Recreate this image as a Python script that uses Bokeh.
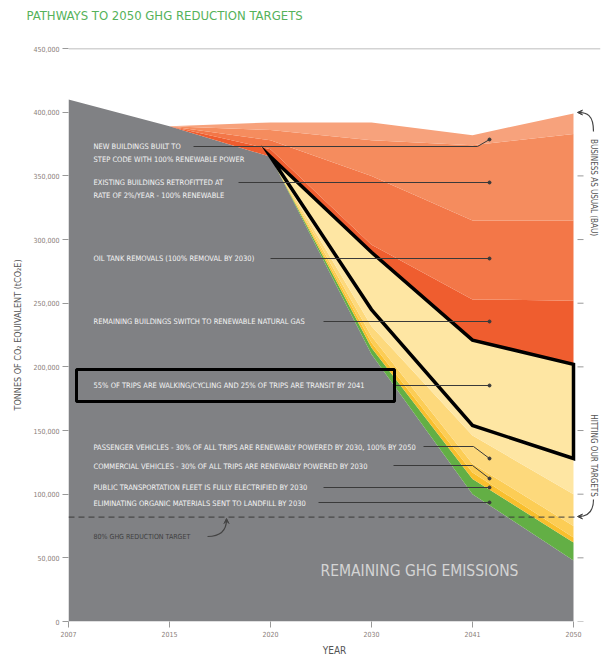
import math
from bokeh.plotting import figure
from bokeh.models import (ColumnDataSource, Range1d, FixedTicker, NumeralTickFormatter,
                          Label, Arrow, VeeHead)
from bokeh.embed import file_html
from bokeh.resources import INLINE

# ---------------- data ----------------
years = ["2007", "2015", "2020", "2030", "2041", "2050"]
remaining = [410000, 389000, 365000, 210000, 100000, 48000]
organics = [0, 0, 0, 5000, 12000, 14000]
public_transit = [0, 0, 0, 4000, 5000, 4000]
commercial = [0, 0, 0, 5000, 7000, 9000]
passenger = [0, 0, 0, 8000, 22000, 25000]
trips = [0, 0, 0, 58000, 75000, 102000]
rng_gas = [0, 0, 6000, 6000, 32000, 50000]
oil_tank = [0, 0, 7000, 54000, 62000, 63000]
retrofit = [0, 0, 8000, 28000, 59000, 68000]
new_buildings = [0, 0, 6000, 14000, 8000, 16000]

pathway_years = ["2020", "2030", "2041", "2050"]
pathway_upper = [365000, 290000, 221000, 202000]
pathway_lower = [365000, 245000, 154000, 128000]

target_value = 82000
y_ticks = list(range(0, 450001, 50000))
right_ticks = list(range(0, 400001, 50000))

layer_names = ["remaining", "organics", "public_transit", "commercial", "passenger",
               "trips", "rng_gas", "oil_tank", "retrofit", "new_buildings"]
layer_colors = ["#808184", "#63AF45", "#F9BF2D", "#FCCD55", "#FDD97C",
                "#FEE6A3", "#EF5D2F", "#F37748", "#F58C5E", "#F7A27C"]

FONT = "DejaVu Sans Condensed"
Y_TOP = 450060
PX_PER_50K = 573 / (Y_TOP / 50000.0)

# pixel helpers for annotation placement
def X(px):
    return (px - 68) / 101.0

def Y(py):
    return (621 - py) * 50000 / PX_PER_50K

xi = list(range(len(years)))
src = ColumnDataSource(dict(x=xi, remaining=remaining, organics=organics,
                            public_transit=public_transit, commercial=commercial,
                            passenger=passenger, trips=trips, rng_gas=rng_gas,
                            oil_tank=oil_tank, retrofit=retrofit,
                            new_buildings=new_buildings))

p = figure(width=605, height=666, output_backend="svg", toolbar_location=None,
           title=None, x_range=Range1d(0, 532 / 101.0), y_range=Range1d(0, Y_TOP),
           min_border_left=68, min_border_right=5, min_border_top=48,
           min_border_bottom=45)
p.outline_line_color = None
p.background_fill_color = "white"
p.border_fill_color = "white"

p.varea_stack(stackers=layer_names, x="x", color=layer_colors, source=src)

# pathway polygon
pxs = [years.index(y) for y in pathway_years]
p.patch(pxs + pxs[::-1], pathway_upper + pathway_lower[::-1], fill_color=None,
        line_color="black", line_width=3.5, line_join="miter")

# target line
p.line([0, X(578)], [target_value, target_value], line_color="#3a3a3a",
       line_width=1, line_dash="6 4")

# right side ticks
p.segment(x0=[X(577)] * len(right_ticks), x1=[X(583)] * len(right_ticks),
          y0=right_ticks, y1=right_ticks, line_color="#999999", line_width=1)

# axes
p.xaxis.ticker = FixedTicker(ticks=xi)
p.xaxis.major_label_overrides = {i: y for i, y in enumerate(years)}
p.yaxis.ticker = FixedTicker(ticks=y_ticks)
p.yaxis.formatter = NumeralTickFormatter(format="0,0")
for ax in (p.xaxis[0], p.yaxis[0]):
    ax.axis_line_color = None
    ax.major_tick_line_color = "#999999"
    ax.major_tick_in = 0
    ax.major_tick_out = 6
    ax.minor_tick_line_color = None
    ax.major_label_text_font = FONT
    ax.major_label_text_font_size = "7px"
    ax.major_label_text_color = "#8a8078"
    ax.major_label_standoff = 3
    ax.axis_label_text_font = FONT
    ax.axis_label_text_font_style = "normal"
    ax.axis_label_text_color = "#555555"
p.yaxis.axis_label = "TONNES OF CO\u2082 EQUIVALENT (tCO\u2082E)"
p.yaxis.axis_label_text_font_size = "9px"
p.yaxis.axis_label_standoff = 7
p.xaxis.axis_label = "YEAR"
p.xaxis.axis_label_text_font_size = "10px"
p.xaxis.axis_label_standoff = 5
p.xgrid.grid_line_color = None
p.ygrid.ticker = FixedTicker(ticks=[450000])
p.ygrid.grid_line_color = "#a8a8a8"
p.ygrid.grid_line_width = 1.5

# leader lines
leaders = [
    [(193, 146), (477, 146), (489, 139)],
    [(238, 182), (489, 182)],
    [(270, 258), (489, 258)],
    [(323, 321), (489, 321)],
    [(394, 385), (489, 385)],
    [(423, 446), (473, 446), (489, 458)],
    [(393, 465), (472, 465), (489, 478)],
    [(323, 487), (489, 487)],
    [(318, 502), (489, 502)],
]
p.multi_line([[X(a) for a, b in L] for L in leaders],
             [[Y(b) for a, b in L] for L in leaders],
             line_color="#3a3a3a", line_width=1)
p.scatter([X(L[-1][0]) for L in leaders], [Y(L[-1][1]) for L in leaders],
          size=3, color="#3a3a3a")

# box around the transit label
p.quad(left=X(76), right=X(394), top=Y(369), bottom=Y(401), fill_color=None,
       line_color="black", line_width=3)

def lab(text, px, py, size="7.5px", color="#f4f4f4", angle=0, align="left",
        weight="normal", place=None):
    l = Label(x=X(px), y=Y(py), text=text, text_font=FONT,
              text_font_size=size, text_color=color, angle=angle,
              text_align=align, text_baseline="middle",
              text_font_style=weight)
    if place:
        p.add_layout(l, place)
    else:
        p.add_layout(l)

lab("PATHWAYS TO 2050 GHG REDUCTION TARGETS", 26, 15, size="13px", color="#55b25a",
    place="above")
lab("NEW BUILDINGS BUILT TO", 93, 146)
lab("STEP CODE WITH 100% RENEWABLE POWER", 93, 159)
lab("EXISTING BUILDINGS RETROFITTED AT", 93, 182)
lab("RATE OF 2%/YEAR - 100% RENEWABLE", 93, 195)
lab("OIL TANK REMOVALS (100% REMOVAL BY 2030)", 93, 258)
lab("REMAINING BUILDINGS SWITCH TO RENEWABLE NATURAL GAS", 93, 321)
lab("55% OF TRIPS ARE WALKING/CYCLING AND 25% OF TRIPS ARE TRANSIT BY 2041", 93, 385)
lab("PASSENGER VEHICLES - 30% OF ALL TRIPS ARE RENEWABLY POWERED BY 2030, 100% BY 2050", 93, 447)
lab("COMMERCIAL VEHICLES - 30% OF ALL TRIPS ARE RENEWABLY POWERED BY 2030", 93, 466)
lab("PUBLIC TRANSPORTATION FLEET IS FULLY ELECTRIFIED BY 2030", 93, 487)
lab("ELIMINATING ORGANIC MATERIALS SENT TO LANDFILL BY 2030", 93, 503)
lab("80% GHG REDUCTION TARGET", 93, 536, size="7px", color="#3f3f3f")
lab("REMAINING GHG EMISSIONS", 320, 570, size="15.5px", color="#d4d4d4")

lab("BUSINESS AS USUAL (BAU)", 593, 187, size="8px", color="#555555",
    angle=-math.pi / 2, align="center")
lab("HITTING OUR TARGETS", 593, 455, size="8px", color="#555555",
    angle=-math.pi / 2, align="center")

# curved arrows
curves = [
    ((593, 131), (593, 114), (586, 112), (578, 112)),
    ((593, 499), (593, 512), (586, 516), (578, 516)),
    ((207, 536), (222, 536), (226, 528), (226, 519)),
]
p.bezier(x0=[X(c[0][0]) for c in curves], y0=[Y(c[0][1]) for c in curves],
         cx0=[X(c[1][0]) for c in curves], cy0=[Y(c[1][1]) for c in curves],
         cx1=[X(c[2][0]) for c in curves], cy1=[Y(c[2][1]) for c in curves],
         x1=[X(c[3][0]) for c in curves], y1=[Y(c[3][1]) for c in curves],
         line_color="#444444", line_width=1.2)
heads = [((581, 112), (577, 112)), ((581, 516), (577, 516)), ((226, 522), (226, 518))]
for (a, b) in heads:
    p.add_layout(Arrow(end=VeeHead(size=5, line_color="#444444", fill_color="#444444",
                                   line_width=1),
                       x_start=X(a[0]), y_start=Y(a[1]), x_end=X(b[0]), y_end=Y(b[1]),
                       line_color="#444444", line_width=1.2))

open("out.html", "w").write(file_html(p, INLINE))
